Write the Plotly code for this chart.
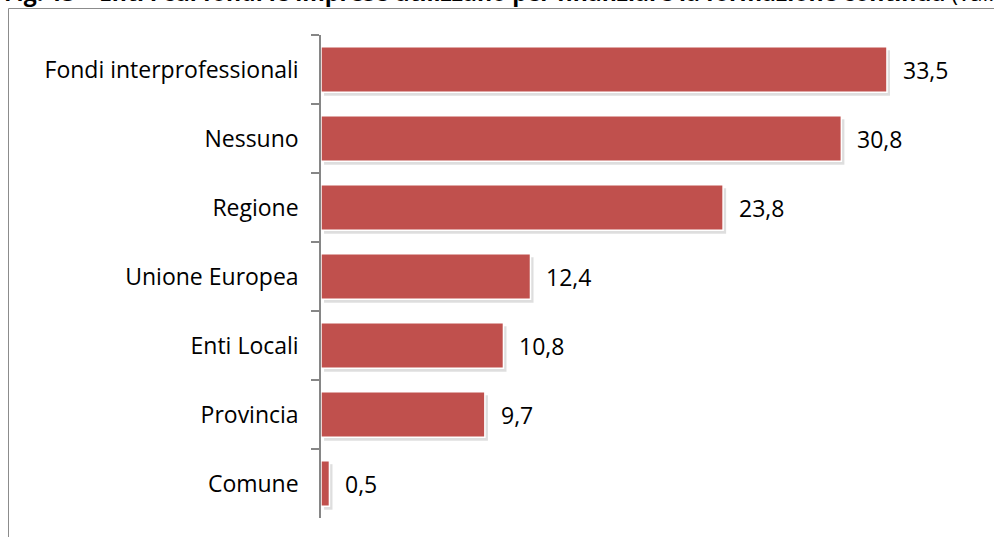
import plotly.graph_objects as go

categories = ["Fondi interprofessionali", "Nessuno", "Regione", "Unione Europea",
              "Enti Locali", "Provincia", "Comune"]
values = [33.5, 30.8, 23.8, 12.4, 10.8, 9.7, 0.5]
title_bold = "Fig. 13 – Enti i cui fondi le imprese utilizzano per finanziare la formazione continua"
title_rest = " (val. %)"

FONT = "Open Sans"
FS = 23
W, H = 994, 537
L, R, T, B = 321, 31, 35, 19
pw, ph = W - L - R, H - T - B
BW = 0.66

def px_x(p):
    return (p - L) / pw

def px_y(p):
    return 1 - (p - T) / ph

fig = go.Figure()
# soft drop shadow
fig.add_trace(go.Bar(
    y=categories, x=values, base=0.18, orientation="h", width=BW, offset=-BW / 2 + 0.05,
    marker=dict(color="rgba(0,0,0,0.13)", line=dict(width=0)),
    hoverinfo="skip",
))
fig.add_trace(go.Bar(
    y=categories, x=values, orientation="h", width=BW, offset=-BW / 2,
    marker=dict(color="#C0504D", line=dict(color="white", width=1.5)),
    hoverinfo="skip",
))

for c, v in zip(categories, values):
    fig.add_annotation(x=v, y=c, xref="x", yref="y", text=f"{v:.1f}".replace(".", ","),
                       showarrow=False, xanchor="left", xshift=14,
                       font=dict(family=FONT, size=FS, color="black"))

fig.add_shape(type="rect", xref="paper", yref="paper",
              x0=px_x(8.5), x1=px_x(1010), y0=px_y(560), y1=px_y(8.5),
              line=dict(color="#8c8c8c", width=1), layer="below")

fig.add_annotation(xref="paper", yref="paper", x=px_x(2), y=px_y(10.5), xanchor="left",
                   yanchor="bottom", showarrow=False,
                   text=f"<b>{title_bold}</b>{title_rest}",
                   font=dict(family=FONT, size=23, color="black"))

fig.update_layout(
    width=W, height=H, margin=dict(l=L, r=R, t=T, b=B),
    paper_bgcolor="white", plot_bgcolor="white",
    showlegend=False, barmode="overlay",
    font=dict(family=FONT, size=FS, color="black"),
    xaxis=dict(range=[0, 38], showgrid=False, zeroline=False, showticklabels=False,
               showline=False, fixedrange=True),
    yaxis=dict(autorange="reversed", showgrid=False, zeroline=False, showline=True,
               linecolor="#868686", linewidth=1.5, ticks="outside", ticklen=8,
               tickcolor="#868686", tickwidth=1.5, tickson="boundaries",
               ticklabelstandoff=16, fixedrange=True,
               tickfont=dict(family=FONT, size=FS, color="black")),
)

fig.write_html("out.html", config={"displayModeBar": False},
               post_script="document.body.style.margin='0';document.body.style.overflow='hidden';")
